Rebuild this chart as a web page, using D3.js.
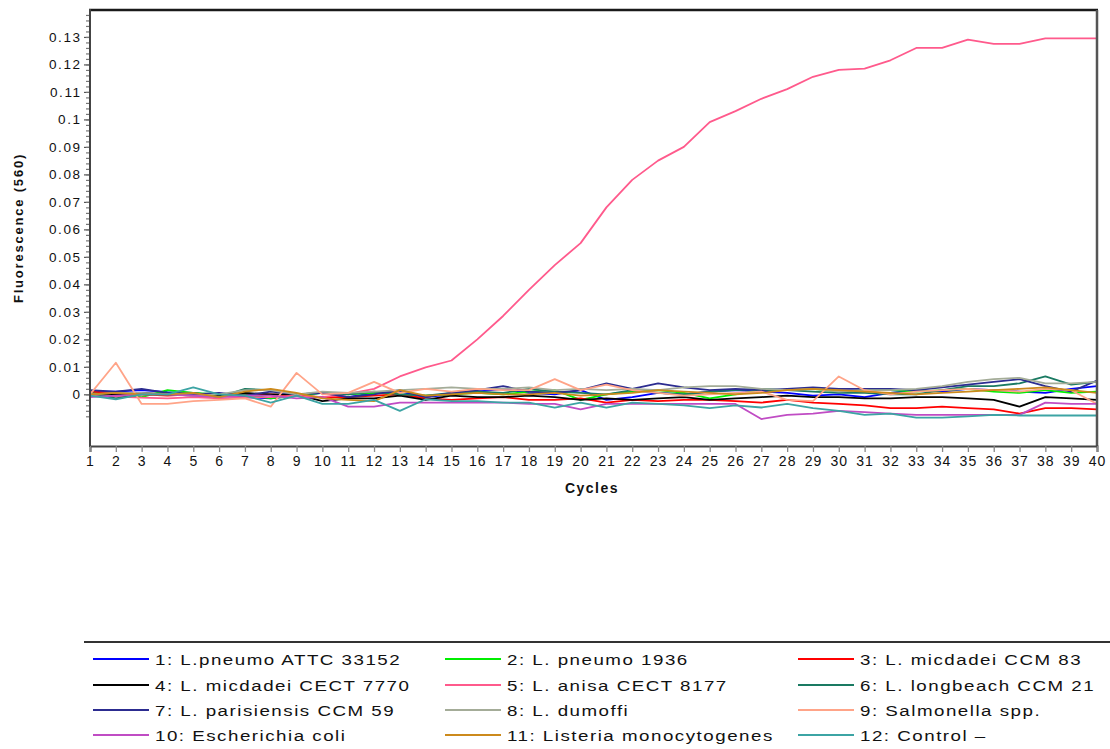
<!DOCTYPE html>
<html>
<head>
<meta charset="utf-8">
<script src="https://cdn.jsdelivr.net/npm/d3@7"></script>
<style>
  html, body { margin: 0; padding: 0; background: #fff; }
  svg { display: block; }
  text { font-family: "Liberation Sans", Arial, sans-serif; fill: #111; }
</style>
</head>
<body>
<svg id="chart" width="1110" height="749"></svg>
<script>
// Amplification cycles 1..40
const cycles = d3.range(1, 41);

// Sample labels
const seriesNames = [
  "1: L.pneumo ATTC 33152",
  "2: L. pneumo 1936",
  "3: L. micdadei CCM 83",
  "4: L. micdadei CECT 7770",
  "5: L. anisa CECT 8177",
  "6: L. longbeach CCM 21",
  "7: L. parisiensis CCM 59",
  "8: L. dumoffi",
  "9: Salmonella spp.",
  "10: Escherichia coli",
  "11: Listeria monocytogenes",
  "12: Control \u2013"
];

const seriesColors = [
  "#0000ff", "#00ee00", "#ff0000", "#000000",
  "#ff5a8c", "#1a7a62", "#2c2c90", "#a4ac98",
  "#ffa488", "#c04cc4", "#cc8a1c", "#3ca4a4"
];

// Fluorescence (560) per cycle, one array per sample
const s1  = [0.001,0.001,0.0015,0.0008,0.0005,-0.0005,-0.001,-0.0015,-0.0005,0.0005,-0.001,0.0005,0.001,-0.001,0.0,0.001,0.002,0.0005,0.0,0.0015,-0.002,-0.001,0.0005,0.0,0.001,0.0015,0.001,0.0005,-0.0005,0.0,-0.001,0.0005,0.0015,0.001,0.002,0.0015,0.001,0.0005,0.002,0.003];
const s2  = [0.0005,0.0,-0.001,0.0015,0.0005,0.0,0.0,-0.0015,-0.0005,0.0005,0.0,0.0005,0.0,-0.0005,0.0,0.0005,0.0,0.001,0.0015,-0.002,0.0,0.001,0.0015,0.0005,-0.0015,0.0,0.0015,0.0015,0.002,0.001,0.0015,0.0015,0.001,0.0015,0.002,0.001,0.0005,0.0015,0.0005,0.001];
const s3  = [0.001,0.0005,0.0,-0.0005,0.0,-0.0005,-0.0005,0.0,-0.0005,-0.001,-0.001,-0.0005,0.0,-0.0015,-0.002,-0.0015,-0.001,-0.002,-0.002,-0.0015,-0.003,-0.002,-0.0025,-0.002,-0.002,-0.0025,-0.003,-0.002,-0.003,-0.0035,-0.004,-0.005,-0.005,-0.0045,-0.005,-0.0055,-0.007,-0.005,-0.005,-0.0055];
const s4  = [-0.0005,0.0,0.0005,0.0,-0.0005,-0.0005,0.0005,0.0,0.0,-0.0025,-0.0015,-0.0015,-0.0005,-0.002,-0.0005,-0.001,-0.001,-0.0005,-0.001,-0.002,-0.0015,-0.002,-0.0015,-0.001,-0.002,-0.0015,-0.001,-0.0005,-0.001,-0.001,-0.0015,-0.0015,-0.001,-0.001,-0.0015,-0.002,-0.0045,-0.001,-0.0015,-0.002];
const s5  = [-0.0005,-0.0008,-0.0012,-0.0015,-0.001,-0.0015,-0.0012,-0.001,-0.0005,-0.001,0.0002,0.002,0.0065,0.0098,0.0123,0.020,0.0285,0.038,0.047,0.055,0.068,0.078,0.085,0.090,0.099,0.103,0.1075,0.111,0.1155,0.118,0.1185,0.1215,0.126,0.126,0.129,0.1275,0.1275,0.1295,0.1295,0.1295];
const s6  = [0.0005,-0.0015,0.0,0.0,0.0005,-0.001,0.002,0.0015,0.0,0.0005,0.0,0.001,0.0,-0.0005,0.0005,0.001,0.0005,0.002,0.001,0.0005,0.0,0.0015,0.0005,0.0,0.001,0.0015,0.002,0.0015,0.001,0.0005,0.0005,0.0,0.0,0.0015,0.003,0.003,0.004,0.0065,0.0035,0.0045];
const s7  = [0.0015,0.001,0.002,0.0005,0.0,0.0005,-0.0005,0.001,0.0,0.0005,-0.001,0.0,0.0015,-0.001,0.0005,0.0015,0.003,0.001,0.0005,0.0015,0.004,0.002,0.004,0.0025,0.0015,0.002,0.0015,0.002,0.0025,0.002,0.002,0.002,0.0015,0.0025,0.0035,0.0045,0.0055,0.003,0.001,0.005];
const s8  = [0.0,0.0005,0.0005,0.0,-0.0005,0.0,0.0015,0.0015,0.0,0.001,0.0005,0.001,0.0015,0.002,0.0025,0.002,0.002,0.0025,0.0015,0.002,0.0015,0.002,0.0015,0.0025,0.003,0.003,0.002,0.0015,0.002,0.001,0.0015,0.0015,0.002,0.003,0.0045,0.0055,0.006,0.004,0.004,0.0045];
const s9  = [0.0,0.0115,-0.0035,-0.0035,-0.0025,-0.002,-0.0015,-0.0045,0.0078,0.0,0.0005,0.0045,0.0005,0.002,0.001,0.002,0.0015,0.0015,0.0055,0.0015,0.0035,0.0015,0.0005,-0.0005,0.0,0.0005,0.001,-0.002,-0.0025,0.0065,0.0015,0.0,0.001,0.0015,0.002,0.0015,0.001,0.002,0.0015,-0.0035];
const s10 = [-0.001,-0.0005,0.0,0.0,-0.0005,-0.001,-0.0005,-0.0005,-0.0015,-0.001,-0.0045,-0.0045,-0.003,-0.003,-0.003,-0.003,-0.003,-0.0035,-0.0035,-0.0055,-0.0035,-0.0035,-0.0035,-0.0035,-0.0035,-0.0035,-0.009,-0.0075,-0.007,-0.006,-0.0065,-0.007,-0.0075,-0.0075,-0.0075,-0.0075,-0.0075,-0.003,-0.0035,-0.0035];
const s11 = [0.0,0.0005,0.0,0.0,0.0005,-0.001,0.001,0.002,0.0005,-0.0015,-0.002,-0.0025,0.0015,-0.0005,0.0,0.0005,0.0,0.0,0.0005,-0.0005,0.0,0.0005,0.0015,0.001,0.0005,0.0,0.0005,0.0015,0.002,0.0015,0.001,0.0005,0.0,0.0005,0.001,0.0015,0.002,0.0025,0.0015,0.0005];
const s12 = [-0.0005,-0.0018,0.0,0.0,0.0025,0.0,-0.0005,-0.003,-0.0005,-0.0035,-0.0035,-0.002,-0.006,-0.0018,-0.0025,-0.0025,-0.003,-0.003,-0.0048,-0.003,-0.0048,-0.003,-0.0035,-0.004,-0.005,-0.004,-0.0048,-0.0035,-0.005,-0.006,-0.0075,-0.007,-0.0085,-0.0085,-0.008,-0.0075,-0.0077,-0.0077,-0.0077,-0.0077];

const seriesValues = [s1, s2, s3, s4, s5, s6, s7, s8, s9, s10, s11, s12];

// Axis tick values
const yTickValues = d3.range(0, 0.1301, 0.01).map(v => +v.toFixed(2));
const yMinorValues = d3.range(-0.008, 0.1381, 0.002).map(v => +v.toFixed(3));

const svg = d3.select("#chart");

const plot = { left: 90, right: 1097, top: 10, bottom: 446 };

const x = d3.scaleLinear().domain([1, 40]).range([plot.left, plot.right]);
const y = d3.scaleLinear().domain([-0.0188, 0.1398]).range([plot.bottom, plot.top]);

// Series lines
const line = d3.line()
  .x((d, i) => x(cycles[i]))
  .y(d => y(d));

svg.append("clipPath").attr("id", "plotclip")
  .append("rect")
  .attr("x", plot.left).attr("y", plot.top)
  .attr("width", plot.right - plot.left).attr("height", plot.bottom - plot.top);
const linesG = svg.append("g").attr("clip-path", "url(#plotclip)");

seriesValues.forEach((vals, k) => {
  linesG.append("path")
    .attr("d", line(vals))
    .attr("fill", "none")
    .attr("stroke", seriesColors[k])
    .attr("stroke-width", 1.8)
    .attr("stroke-linejoin", "round");
});

// Frame
svg.append("line").attr("x1", plot.left - 1).attr("x2", plot.right + 1)
  .attr("y1", plot.top).attr("y2", plot.top)
  .attr("stroke", "#1a1a1a").attr("stroke-width", 2.5);
svg.append("line").attr("x1", plot.right).attr("x2", plot.right)
  .attr("y1", plot.top).attr("y2", plot.bottom)
  .attr("stroke", "#555").attr("stroke-width", 2.5);

// Y axis
const yAxis = d3.axisLeft(y)
  .tickValues(yTickValues)
  .tickSize(6)
  .tickPadding(4)
  .tickFormat(d => String(d));
const yG = svg.append("g").attr("transform", `translate(${plot.left},0)`).call(yAxis);
yG.select(".domain").remove();
yG.selectAll(".tick line").attr("stroke", "#555").attr("stroke-width", 1.2);
yG.selectAll(".tick text")
  .attr("font-size", 13.5)
  .attr("letter-spacing", "1.6px")
  .attr("dx", "1.6px")
  .attr("fill", "#111")
  .attr("font-family", "Liberation Sans, Arial, sans-serif");

const yMinorAxis = d3.axisLeft(y).tickValues(yMinorValues).tickSize(4).tickFormat("");
const yMinorG = svg.append("g").attr("transform", `translate(${plot.left},0)`).call(yMinorAxis);
yMinorG.select(".domain").remove();
yMinorG.selectAll(".tick line").attr("stroke", "#777").attr("stroke-width", 1.2);

svg.append("line").attr("x1", plot.left).attr("x2", plot.left)
  .attr("y1", plot.top - 1).attr("y2", plot.bottom + 1)
  .attr("stroke", "#444").attr("stroke-width", 2);

// X axis
const xAxis = d3.axisBottom(x)
  .tickValues(cycles)
  .tickSize(6)
  .tickPadding(4)
  .tickFormat(d => String(d));
const xG = svg.append("g").attr("transform", `translate(0,${plot.bottom})`).call(xAxis);
xG.select(".domain").attr("stroke", "#444").attr("stroke-width", 2);
xG.selectAll(".tick line").attr("stroke", "#888").attr("stroke-width", 1.3);
xG.selectAll(".tick text")
  .attr("font-size", 14)
  .attr("letter-spacing", "1px")
  .attr("fill", "#111")
  .attr("font-family", "Liberation Sans, Arial, sans-serif");

// Axis titles
svg.append("text")
  .attr("x", 592).attr("y", 493)
  .attr("text-anchor", "middle")
  .attr("font-size", 14)
  .attr("font-weight", "bold")
  .attr("letter-spacing", "1.5px")
  .text("Cycles");

svg.append("text")
  .attr("transform", "translate(23,228) rotate(-90)")
  .attr("text-anchor", "middle")
  .attr("font-size", 13)
  .attr("font-weight", "bold")
  .attr("letter-spacing", "1.8px")
  .text("Fluorescence (560)");

// Legend
svg.append("line")
  .attr("x1", 84).attr("x2", 1110)
  .attr("y1", 642).attr("y2", 642)
  .attr("stroke", "#333").attr("stroke-width", 2);

const legendCols = [93, 445, 798];
const legendRows = [659, 685, 710, 735];
const legendG = svg.append("g");
seriesNames.forEach((name, k) => {
  const cx = legendCols[k % 3];
  const cy = legendRows[Math.floor(k / 3)];
  legendG.append("line")
    .attr("x1", cx).attr("x2", cx + 56)
    .attr("y1", cy).attr("y2", cy)
    .attr("stroke", seriesColors[k]).attr("stroke-width", 1.8);
  legendG.append("text")
    .attr("transform", `translate(${cx + 62},${cy + 5.5}) scale(1.25,1)`)
    .attr("font-size", 15)
    .attr("letter-spacing", "1.2px")
    .attr("fill", "#0a0a0a")
    .text(name);
});
</script>
</body>
</html>
